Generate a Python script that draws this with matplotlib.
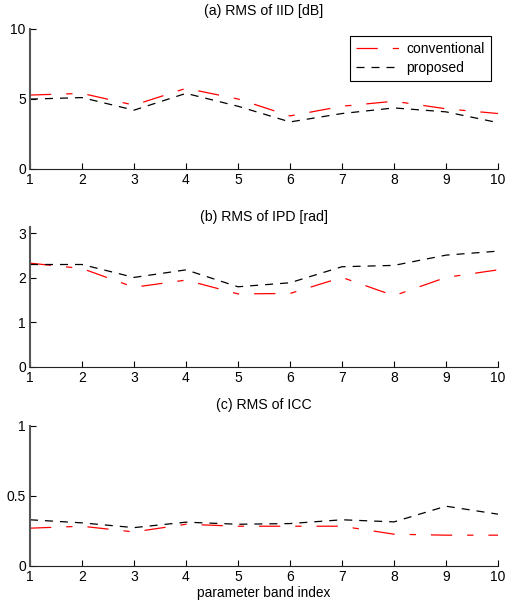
import matplotlib.pyplot as plt
import numpy as np

plt.rcParams["font.family"] = ["Liberation Sans", "DejaVu Sans"]

bands = np.arange(1, 11)

iid_conv = [5.28, 5.4, 4.56, 5.76, 5.0, 3.79, 4.48, 4.84, 4.3, 3.96]
iid_prop = [4.99, 5.1, 4.2, 5.4, 4.48, 3.36, 3.96, 4.36, 4.08, 3.31]

ipd_conv = [2.33, 2.21, 1.79, 1.95, 1.64, 1.65, 2.01, 1.6, 2.01, 2.18]
ipd_prop = [2.3, 2.3, 2.01, 2.18, 1.8, 1.89, 2.25, 2.28, 2.51, 2.6]

icc_conv = [0.27, 0.284, 0.243, 0.298, 0.284, 0.284, 0.284, 0.227, 0.22, 0.22]
icc_prop = [0.33, 0.308, 0.274, 0.313, 0.298, 0.303, 0.33, 0.315, 0.427, 0.37]

titles = ["(a) RMS of IID [dB]", "(b) RMS of IPD [rad]", "(c) RMS of ICC"]
ylims = [(0, 10), (0, np.pi), (0, 1)]
yticks = [[0, 5, 10], [0, 1, 2, 3], [0, 0.5, 1]]
yticklabels = [["0", "5", "10"], ["0", "1", "2", "3"], ["0", "0.5", "1"]]
series = [(iid_conv, iid_prop), (ipd_conv, ipd_prop), (icc_conv, icc_prop)]

fig = plt.figure(figsize=(5.05, 6.05), dpi=100)
bottoms = [0.7207, 0.3934, 0.0645]
title_pads = [10, 4, 12]

for i in range(3):
    ax = fig.add_axes([0.0594, bottoms[i], 0.9267, 0.2314])
    conv, prop = series[i]
    ax.plot(bands, conv, color="red", linewidth=0.9, dashes=(17, 12, 5, 12),
            label="conventional")
    ax.plot(bands, prop, color="black", linewidth=0.9, dashes=(6.4, 5.6),
            label="proposed")
    ax.set_xlim(1, 10)
    ax.set_ylim(*ylims[i])
    ax.set_xticks(bands)
    ax.set_yticks(yticks[i])
    ax.set_yticklabels(yticklabels[i])
    ax.spines["top"].set_visible(False)
    ax.spines["right"].set_visible(False)
    ax.spines["left"].set_color("#555555")
    ax.spines["left"].set_linewidth(1.5)
    ax.spines["bottom"].set_color("#222222")
    ax.tick_params(direction="in", length=4, labelsize=10, pad=3)
    ax.set_title(titles[i], fontsize=10.2, pad=title_pads[i])
    if i == 0:
        leg = ax.legend(loc="upper right", fontsize=10, fancybox=False,
                        framealpha=1, edgecolor="black", handlelength=3.2,
                        handletextpad=0.4, borderaxespad=0.5, borderpad=0.45,
                        labelspacing=0.35)
        leg.get_frame().set_linewidth(0.8)
    if i == 2:
        ax.set_xlabel("parameter band index", fontsize=9.8, labelpad=1)

fig.savefig("out.png", dpi=100)
